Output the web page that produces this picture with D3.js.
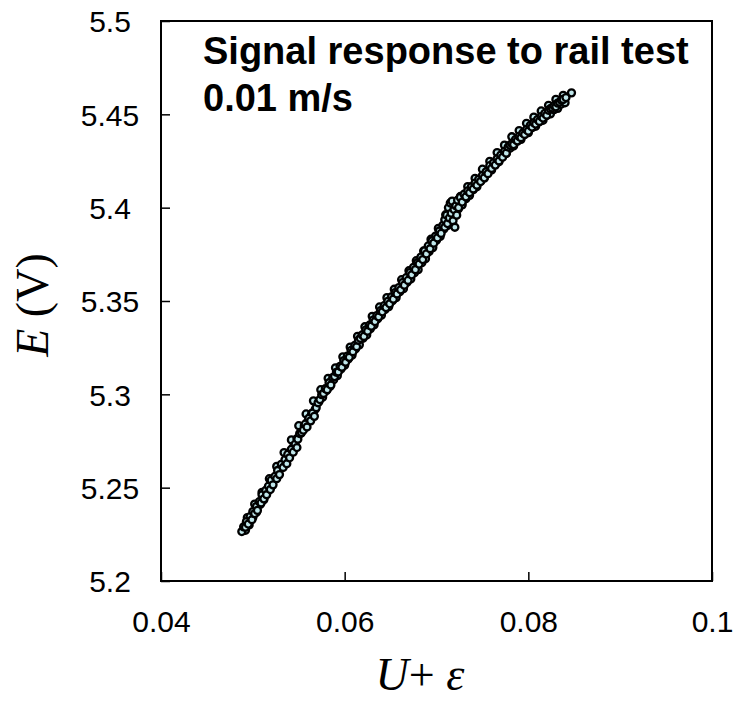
<!DOCTYPE html>
<html>
<head>
<meta charset="utf-8">
<script src="https://d3js.org/d3.v7.min.js"></script>
<style>
  body { margin: 0; background: #fff; }
  svg text { font-family: "Liberation Sans", Arial, sans-serif; }
</style>
</head>
<body>
<svg id="chart" width="733" height="703"></svg>
<script>
// values (middle track of the band)
var uValues = [
  0.0488, 0.0490, 0.0492, 0.0493, 0.0495, 0.0497, 0.0499, 0.0500, 0.0502, 0.0504,
  0.0505, 0.0507, 0.0509, 0.0510, 0.0512, 0.0514, 0.0515, 0.0517, 0.0519, 0.0520,
  0.0522, 0.0524, 0.0526, 0.0527, 0.0529, 0.0531, 0.0533, 0.0535, 0.0537, 0.0538,
  0.0540, 0.0542, 0.0544, 0.0546, 0.0548, 0.0549, 0.0551, 0.0553, 0.0555, 0.0557,
  0.0559, 0.0561, 0.0563, 0.0565, 0.0567, 0.0569, 0.0571, 0.0573, 0.0575, 0.0577,
  0.0579, 0.0581, 0.0583, 0.0585, 0.0587, 0.0589, 0.0591, 0.0593, 0.0595, 0.0597,
  0.0599, 0.0601, 0.0603, 0.0605, 0.0607, 0.0609, 0.0611, 0.0613, 0.0615, 0.0617,
  0.0619, 0.0621, 0.0623, 0.0625, 0.0627, 0.0629, 0.0631, 0.0633, 0.0635, 0.0637,
  0.0639, 0.0641, 0.0643, 0.0645, 0.0647, 0.0649, 0.0651, 0.0653, 0.0655, 0.0657,
  0.0659, 0.0661, 0.0663, 0.0665, 0.0667, 0.0669, 0.0671, 0.0673, 0.0675, 0.0677,
  0.0679, 0.0681, 0.0683, 0.0685, 0.0687, 0.0689, 0.0691, 0.0693, 0.0695, 0.0697,
  0.0699, 0.0701, 0.0703, 0.0705, 0.0707, 0.0709, 0.0709, 0.0711, 0.0712, 0.0713,
  0.0714, 0.0715, 0.0716, 0.0717, 0.0718, 0.0719, 0.0720, 0.0721, 0.0722, 0.0723,
  0.0724, 0.0726, 0.0728, 0.0730, 0.0732, 0.0734, 0.0736, 0.0738, 0.0740, 0.0742,
  0.0744, 0.0746, 0.0748, 0.0750, 0.0752, 0.0754, 0.0756, 0.0758, 0.0760, 0.0762,
  0.0764, 0.0766, 0.0768, 0.0770, 0.0772, 0.0774, 0.0776, 0.0778, 0.0780, 0.0782,
  0.0784, 0.0786, 0.0788, 0.0790, 0.0792, 0.0794, 0.0796, 0.0798, 0.0800, 0.0802,
  0.0804, 0.0806, 0.0808, 0.0810, 0.0812, 0.0814, 0.0816, 0.0818, 0.0820, 0.0822,
  0.0824, 0.0826, 0.0828, 0.0830, 0.0832, 0.0834, 0.0836, 0.0838, 0.0841, 0.0847
];
var eValues = [
  5.2265, 5.2290, 5.2288, 5.2318, 5.2305, 5.2345, 5.2328, 5.2372, 5.2361, 5.2400,
  5.2378, 5.2425, 5.2418, 5.2462, 5.2440, 5.2485, 5.2462, 5.2508, 5.2490, 5.2540,
  5.2515, 5.2560, 5.2548, 5.2592, 5.2570, 5.2625, 5.2608, 5.2650, 5.2628, 5.2678,
  5.2660, 5.2705, 5.2690, 5.2732, 5.2715, 5.2760, 5.2790, 5.2795, 5.2808, 5.2840,
  5.2825, 5.2872, 5.2858, 5.2900, 5.2882, 5.2928, 5.2955, 5.2972, 5.2998, 5.3005,
  5.3030, 5.3025, 5.3062, 5.3050, 5.3090, 5.3095, 5.3118, 5.3120, 5.3150, 5.3145,
  5.3180, 5.3172, 5.3205, 5.3198, 5.3235, 5.3228, 5.3262, 5.3255, 5.3290, 5.3300,
  5.3318, 5.3310, 5.3345, 5.3338, 5.3370, 5.3365, 5.3398, 5.3390, 5.3422, 5.3415,
  5.3448, 5.3442, 5.3475, 5.3465, 5.3498, 5.3485, 5.3522, 5.3510, 5.3545, 5.3538,
  5.3572, 5.3560, 5.3598, 5.3585, 5.3625, 5.3610, 5.3652, 5.3640, 5.3680, 5.3668,
  5.3705, 5.3698, 5.3735, 5.3722, 5.3768, 5.3752, 5.3795, 5.3780, 5.3822, 5.3810,
  5.3848, 5.3838, 5.3875, 5.3862, 5.3905, 5.3895, 5.3935, 5.3960, 5.3915, 5.4000,
  5.3945, 5.4025, 5.3970, 5.4035, 5.3930, 5.3990, 5.3895, 5.4010, 5.3960, 5.4040,
  5.4000, 5.4055, 5.4030, 5.4072, 5.4058, 5.4090, 5.4080, 5.4112, 5.4100, 5.4132,
  5.4120, 5.4152, 5.4140, 5.4172, 5.4160, 5.4192, 5.4182, 5.4225, 5.4210, 5.4240,
  5.4228, 5.4262, 5.4250, 5.4282, 5.4270, 5.4302, 5.4292, 5.4325, 5.4335, 5.4342,
  5.4338, 5.4365, 5.4358, 5.4382, 5.4375, 5.4400, 5.4392, 5.4418, 5.4410, 5.4440,
  5.4432, 5.4455, 5.4448, 5.4472, 5.4462, 5.4488, 5.4480, 5.4505, 5.4495, 5.4522,
  5.4530, 5.4535, 5.4545, 5.4540, 5.4560, 5.4565, 5.4575, 5.4580, 5.4590, 5.4615
];
// lower-right track of the band
var uValues2 = [
  0.0492, 0.0496, 0.0500, 0.0504, 0.0508, 0.0512, 0.0516, 0.0520, 0.0524, 0.0528,
  0.0532, 0.0536, 0.0540, 0.0544, 0.0548, 0.0552, 0.0556, 0.0560, 0.0564, 0.0568,
  0.0572, 0.0576, 0.0580, 0.0584, 0.0588, 0.0592, 0.0596, 0.0600, 0.0604, 0.0608,
  0.0612, 0.0616, 0.0620, 0.0624, 0.0628, 0.0632, 0.0636, 0.0640, 0.0644, 0.0648,
  0.0652, 0.0656, 0.0660, 0.0664, 0.0668, 0.0672, 0.0676, 0.0680, 0.0684, 0.0688,
  0.0692, 0.0696, 0.0700, 0.0704, 0.0708, 0.0712, 0.0716, 0.0720, 0.0724, 0.0728,
  0.0732, 0.0736, 0.0740, 0.0744, 0.0748, 0.0752, 0.0756, 0.0760, 0.0764, 0.0768,
  0.0772, 0.0776, 0.0780, 0.0784, 0.0788, 0.0792, 0.0796, 0.0800, 0.0804, 0.0808,
  0.0812, 0.0816, 0.0820, 0.0824, 0.0828, 0.0832, 0.0836, 0.0840
];
var eValues2 = [
  5.2272, 5.2300, 5.2340, 5.2368, 5.2410, 5.2436, 5.2478, 5.2505, 5.2548, 5.2574,
  5.2618, 5.2645, 5.2690, 5.2716, 5.2762, 5.2790, 5.2830, 5.2855, 5.2896, 5.2920,
  5.2962, 5.2984, 5.3020, 5.3042, 5.3078, 5.3100, 5.3136, 5.3156, 5.3190, 5.3210,
  5.3245, 5.3265, 5.3300, 5.3318, 5.3352, 5.3372, 5.3405, 5.3424, 5.3455, 5.3470,
  5.3502, 5.3518, 5.3550, 5.3566, 5.3600, 5.3618, 5.3652, 5.3668, 5.3705, 5.3726,
  5.3765, 5.3786, 5.3825, 5.3846, 5.3886, 5.3905, 5.3942, 5.3958, 5.3995, 5.4015,
  5.4048, 5.4066, 5.4096, 5.4112, 5.4142, 5.4158, 5.4188, 5.4202, 5.4232, 5.4246,
  5.4276, 5.4290, 5.4318, 5.4330, 5.4356, 5.4366, 5.4392, 5.4402, 5.4428, 5.4436,
  5.4460, 5.4468, 5.4494, 5.4502, 5.4525, 5.4532, 5.4555, 5.4562
];
// upper-left track of the band
var uValues3 = [
  0.0494, 0.0502, 0.0510, 0.0518, 0.0526, 0.0534, 0.0542, 0.0550, 0.0558, 0.0566,
  0.0574, 0.0582, 0.0590, 0.0598, 0.0606, 0.0614, 0.0622, 0.0630, 0.0638, 0.0646,
  0.0654, 0.0662, 0.0670, 0.0678, 0.0686, 0.0694, 0.0702, 0.0710, 0.0718, 0.0726,
  0.0734, 0.0742, 0.0750, 0.0758, 0.0766, 0.0774, 0.0782, 0.0790, 0.0798, 0.0806,
  0.0814, 0.0822, 0.0830, 0.0838
];
var eValues3 = [
  5.2340, 5.2412, 5.2475, 5.2548, 5.2614, 5.2688, 5.2756, 5.2832, 5.2895, 5.2965,
  5.3025, 5.3086, 5.3142, 5.3201, 5.3253, 5.3311, 5.3362, 5.3418, 5.3468, 5.3518,
  5.3563, 5.3614, 5.3662, 5.3716, 5.3768, 5.3831, 5.3889, 5.3962, 5.4018, 5.4060,
  5.4113, 5.4157, 5.4206, 5.4248, 5.4295, 5.4335, 5.4380, 5.4413, 5.4452, 5.4485,
  5.4518, 5.4548, 5.4580, 5.4602
];
var xTicks = [0.04, 0.06, 0.08, 0.1];
var xTickLabels = ['0.04', '0.06', '0.08', '0.1'];
var yTicks = [5.2, 5.25, 5.3, 5.35, 5.4, 5.45, 5.5];
var yTickLabels = ['5.2', '5.25', '5.3', '5.35', '5.4', '5.45', '5.5'];

var plotLeft = 161, plotRight = 712, plotTop = 21, plotBottom = 581;
var svg = d3.select('#chart');

var xScale = d3.scaleLinear().domain([0.04, 0.1]).range([plotLeft, plotRight]);
var yScale = d3.scaleLinear().domain([5.2, 5.5]).range([plotBottom, plotTop]);

// inward ticks, labels moved by hand below
var xAxis = d3.axisBottom(xScale)
  .tickValues(xTicks)
  .tickSize(-9)
  .tickFormat(function(d, i) { return xTickLabels[i]; });
var gx = svg.append('g')
  .attr('transform', 'translate(0,' + plotBottom + ')')
  .call(xAxis);
gx.select('.domain').remove();
gx.selectAll('line').attr('stroke', '#000').attr('stroke-width', 1.5);
gx.selectAll('text')
  .attr('y', 51)
  .attr('dy', null)
  .attr('fill', '#000')
  .style('font-size', '30px');

var yAxis = d3.axisLeft(yScale)
  .tickValues(yTicks)
  .tickSize(-9)
  .tickFormat(function(d, i) { return yTickLabels[i]; });
var gy = svg.append('g')
  .attr('transform', 'translate(' + plotLeft + ',0)')
  .call(yAxis);
gy.select('.domain').remove();
gy.selectAll('line').attr('stroke', '#000').attr('stroke-width', 1.5);
gy.selectAll('text')
  .attr('x', -51)
  .attr('text-anchor', 'middle')
  .attr('dy', '0.36em')
  .attr('fill', '#000')
  .style('font-size', '30px');

// frame
svg.append('rect')
  .attr('x', plotLeft).attr('y', plotTop)
  .attr('width', plotRight - plotLeft).attr('height', plotBottom - plotTop)
  .attr('fill', 'none')
  .attr('stroke', '#000')
  .attr('stroke-width', 2);

// points, all three tracks
var pts = [];
uValues3.forEach(function(u, i) { pts.push({ u: u, e: eValues3[i] }); });
uValues2.forEach(function(u, i) { pts.push({ u: u, e: eValues2[i] }); });
uValues.forEach(function(u, i) { pts.push({ u: u, e: eValues[i] }); });
svg.append('g')
  .selectAll('circle')
  .data(pts)
  .enter()
  .append('circle')
  .attr('cx', function(d) { return xScale(d.u); })
  .attr('cy', function(d) { return yScale(d.e); })
  .attr('r', 3.5)
  .attr('fill', '#bfe6ea')
  .attr('stroke', '#000')
  .attr('stroke-width', 2.3);

// annotation
svg.append('text')
  .attr('x', 203).attr('y', 64)
  .style('font-size', '38px').style('font-weight', 'bold')
  .text('Signal response to rail test');
svg.append('text')
  .attr('x', 203).attr('y', 111)
  .style('font-size', '38px').style('font-weight', 'bold')
  .text('0.01 m/s');

// axis titles
var xt = svg.append('text')
  .attr('x', 420).attr('y', 690)
  .attr('text-anchor', 'middle')
  .style('font-family', '"Liberation Serif", "Times New Roman", serif')
  .style('font-size', '46px');
xt.append('tspan').style('font-style', 'italic').text('U');
xt.append('tspan').text('+ ');
xt.append('tspan').style('font-style', 'italic').text('ε');

var yt = svg.append('text')
  .attr('transform', 'translate(48,305) rotate(-90)')
  .attr('text-anchor', 'middle')
  .style('font-family', '"Liberation Serif", "Times New Roman", serif')
  .style('font-size', '46px');
yt.append('tspan').style('font-style', 'italic').text('E');
yt.append('tspan').text(' (V)');
</script>
</body>
</html>
